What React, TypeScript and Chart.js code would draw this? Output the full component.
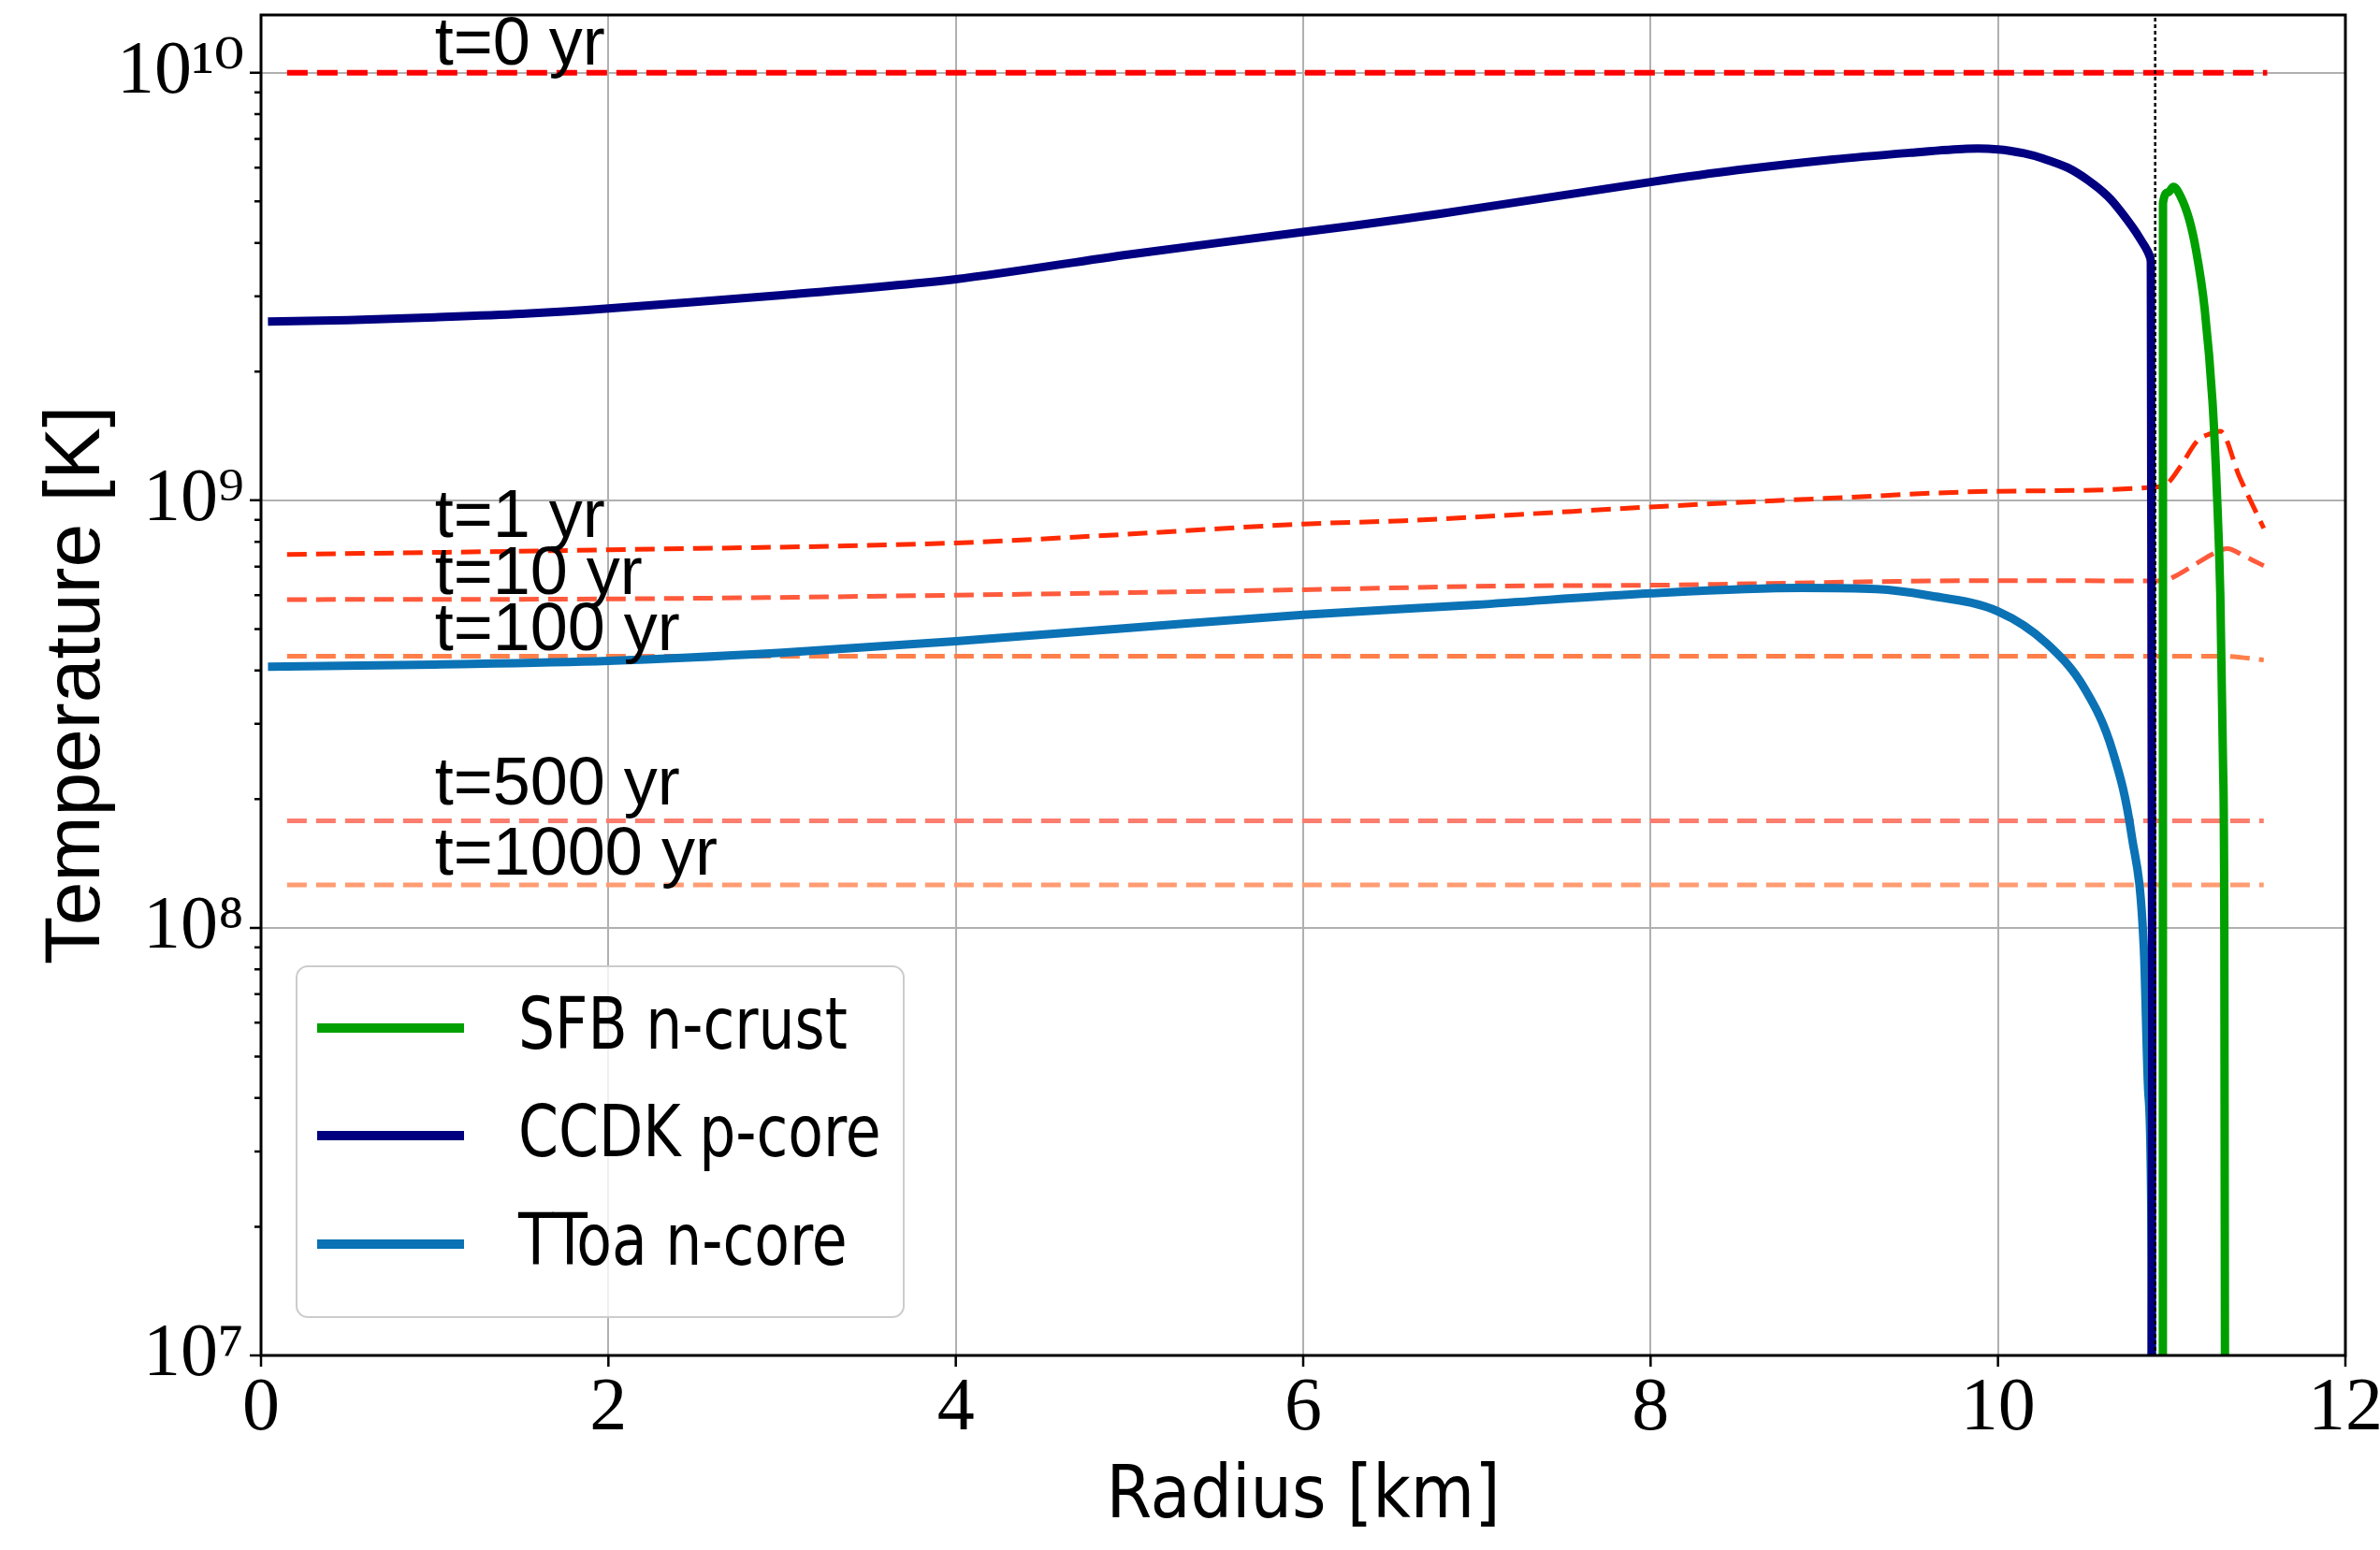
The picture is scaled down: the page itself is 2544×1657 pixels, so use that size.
import React, { useEffect, useRef } from "react";
import { Chart, registerables } from "chart.js";

Chart.register(...registerables);

// ---------- axes ----------
const xTicks = [0, 2, 4, 6, 8, 10, 12];
const yMajorTicks = [1e7, 1e8, 1e9, 1e10];
const yMinorMultipliers = [2, 3, 4, 5, 6, 7, 8, 9];
const xMin = 0;
const xMax = 12;
const yMin = 1e7;
const yMax = 1.365e10;

// ---------- solid profiles ----------
const sfbRadius = [10.949, 10.95, 10.98, 11.01, 11.05, 11.1, 11.14, 11.19, 11.235, 11.26, 11.28, 11.295, 11.303, 11.31];
const sfbTemp = [1e6, 4.96e9, 5.25e9, 5.41e9, 5.15e9, 4.55e9, 3.85e9, 2.8e9, 1.7e9, 1.05e9, 6.0e8, 2.5e8, 1.0e8, 1e6];

const ccdkRadius = [0.04, 0.5, 1, 1.5, 2, 3, 4, 5, 6, 6.58, 7, 8, 8.5, 9.05, 9.5, 9.82, 10.0, 10.15, 10.26, 10.4, 10.52, 10.63, 10.71, 10.81, 10.88, 10.8805];
const ccdkTemp = [2.62e9, 2.64e9, 2.68e9, 2.73e9, 2.81e9, 3.02e9, 3.29e9, 3.76e9, 4.24e9, 4.55e9, 4.82e9, 5.55e9, 5.92e9, 6.27e9, 6.5e9, 6.64e9, 6.62e9, 6.48e9, 6.3e9, 6.0e9, 5.6e9, 5.15e9, 4.72e9, 4.14e9, 3.61e9, 1e6];

const ttoaRadius = [0.04, 1, 2, 3, 4, 5, 6, 7, 8, 8.87, 9.3, 9.59, 10.0, 10.28, 10.5, 10.66, 10.77, 10.84, 10.865, 10.885, 10.89];
const ttoaTemp = [4.08e8, 4.13e8, 4.21e8, 4.4e8, 4.68e8, 5.03e8, 5.4e8, 5.7e8, 6.06e8, 6.24e8, 6.2e8, 6.0e8, 5.5e8, 4.63e8, 3.62e8, 2.59e8, 1.64e8, 8.9e7, 4.15e7, 1.66e7, 1e6];

const seriesLabels = ["SFB n-crust", "CCDK p-core", "TToa n-core"];
const seriesColors = ["#00a000", "#000080", "#0b72b5"];

// ---------- dashed temperature profiles at given ages ----------
const t0Radius = [0.15, 11.55];
const t0Temp = [1e10, 1e10];
const t1Radius = [0.15, 2, 4, 4.85, 6, 6.58, 7.11, 8, 9, 10, 10.92, 10.98, 11.05, 11.15, 11.22, 11.28, 11.39, 11.53];
const t1Temp = [7.47e8, 7.66e8, 7.95e8, 8.27e8, 8.8e8, 8.96e8, 9.2e8, 9.65e8, 1.01e9, 1.05e9, 1.075e9, 1.1e9, 1.2e9, 1.38e9, 1.43e9, 1.45e9, 1.135e9, 8.6e8];
const t10Radius = [0.15, 2, 4, 6, 7.11, 8, 10, 10.95, 11.03, 11.14, 11.245, 11.32, 11.42, 11.53];
const t10Temp = [5.86e8, 5.88e8, 6.0e8, 6.18e8, 6.3e8, 6.33e8, 6.49e8, 6.48e8, 6.68e8, 7.1e8, 7.52e8, 7.71e8, 7.4e8, 7.03e8];
const t100Radius = [0.15, 11.3, 11.53];
const t100Temp = [4.32e8, 4.32e8, 4.23e8];
const t500Radius = [0.15, 11.53];
const t500Temp = [1.78e8, 1.78e8];
const t1000Radius = [0.15, 11.53];
const t1000Temp = [1.26e8, 1.26e8];

const timeRadius = [t0Radius, t1Radius, t10Radius, t100Radius, t500Radius, t1000Radius];
const timeTemp = [t0Temp, t1Temp, t10Temp, t100Temp, t500Temp, t1000Temp];
const timeLabels = ["t=0 yr", "t=1 yr", "t=10 yr", "t=100 yr", "t=500 yr", "t=1000 yr"];
const timeColors = ["#ff0000", "#ff2a00", "#ff5a3c", "#ff7f4a", "#fa7d6e", "#ff9c72"];
const timeLabelRadius = 1.0;
const timeLabelTemp = [1.046e10, 8.22e8, 6.05e8, 4.47e8, 1.94e8, 1.33e8];

// crust-core boundary marker
const boundaryRadius = [10.905, 10.905];
const boundaryTemp = [1e6, 1e11];

const SERIF = '"Liberation Serif", "DejaVu Serif", serif';
const SANS = '"Liberation Sans", "DejaVu Sans", sans-serif';
const NARROW = '"DejaVu Sans Condensed", "Liberation Sans", sans-serif';

const SUP = "⁰¹²³⁴⁵⁶⁷⁸⁹";
const sup = (n: number) =>
  String(n)
    .split("")
    .map((d) => SUP[+d])
    .join("");

const pts = (xs: number[], ys: number[]) => xs.map((x, i) => ({ x, y: ys[i] }));

const decorPlugin = {
  id: "decor",
  afterDatasetsDraw(chart: any) {
    const { ctx, scales } = chart;
    const xs = scales.x;
    const ys = scales.y;
    ctx.save();
    ctx.fillStyle = "#000";
    ctx.font = `72px ${SANS}`;
    ctx.textAlign = "left";
    ctx.textBaseline = "alphabetic";
    timeLabels.forEach((lab, i) => {
      ctx.fillText(lab, xs.getPixelForValue(timeLabelRadius), ys.getPixelForValue(timeLabelTemp[i]));
    });
    ctx.restore();
  },
  afterDraw(chart: any) {
    const { ctx, chartArea: ca, scales } = chart;
    const xs = scales.x;
    const ys = scales.y;
    ctx.save();
    // frame
    ctx.strokeStyle = "#000";
    ctx.lineWidth = 3;
    ctx.strokeRect(ca.left, ca.top, ca.right - ca.left, ca.bottom - ca.top);
    // ticks
    ctx.lineWidth = 2.5;
    ctx.beginPath();
    yMajorTicks.forEach((v) => {
      const y = ys.getPixelForValue(v);
      ctx.moveTo(ca.left, y);
      ctx.lineTo(ca.left - 12, y);
      yMinorMultipliers.forEach((m) => {
        const mv = v * m;
        if (mv <= yMax) {
          const my = ys.getPixelForValue(mv);
          ctx.moveTo(ca.left, my);
          ctx.lineTo(ca.left - 7, my);
        }
      });
    });
    xTicks.forEach((v) => {
      const x = xs.getPixelForValue(v);
      ctx.moveTo(x, ca.bottom);
      ctx.lineTo(x, ca.bottom + 12);
    });
    ctx.stroke();

    // legend
    const lx = ca.left + 38;
    const ly = ca.bottom - 41 - 375;
    const lw = 649;
    const lh = 375;
    ctx.beginPath();
    ctx.roundRect(lx, ly, lw, lh, 12);
    ctx.fillStyle = "rgba(255,255,255,0.8)";
    ctx.fill();
    ctx.strokeStyle = "#cccccc";
    ctx.lineWidth = 2;
    ctx.stroke();
    const rowY = [66, 181, 297];
    seriesLabels.forEach((lab, i) => {
      const y = ly + rowY[i];
      ctx.beginPath();
      ctx.strokeStyle = seriesColors[i];
      ctx.lineWidth = 10;
      ctx.moveTo(lx + 22, y);
      ctx.lineTo(lx + 179, y);
      ctx.stroke();
      ctx.save();
      ctx.fillStyle = "#000";
      ctx.font = `76px ${NARROW}`;
      ctx.textAlign = "left";
      ctx.textBaseline = "middle";
      ctx.translate(lx + 237, y + 2);
      ctx.scale(0.9, 1);
      ctx.fillText(lab, 0, 0);
      ctx.restore();
    });
    ctx.restore();
  },
};

export default function App() {
  const canvasRef = useRef<HTMLCanvasElement | null>(null);

  useEffect(() => {
    document.body.style.margin = "0";
    const canvas = canvasRef.current;
    if (!canvas) return;

    const solid = [
      {
        label: "boundary",
        data: pts(boundaryRadius, boundaryTemp),
        borderColor: "#000000",
        borderWidth: 2.5,
        borderDash: [4, 3],
        tension: 0,
      },
      { label: seriesLabels[0], data: pts(sfbRadius, sfbTemp), borderColor: seriesColors[0], borderWidth: 9, cubicInterpolationMode: "monotone" },
      { label: seriesLabels[1], data: pts(ccdkRadius, ccdkTemp), borderColor: seriesColors[1], borderWidth: 9, tension: 0.3 },
      { label: seriesLabels[2], data: pts(ttoaRadius, ttoaTemp), borderColor: seriesColors[2], borderWidth: 9, cubicInterpolationMode: "monotone" },
    ];
    const dashed = timeLabels.map((lab, i) => ({
      label: lab,
      data: pts(timeRadius[i], timeTemp[i]),
      borderColor: timeColors[i],
      borderWidth: i === 0 ? 6 : 5,
      borderDash: i === 0 ? [22, 10] : [21, 10],
      cubicInterpolationMode: "monotone",
    }));

    const datasets = [...solid, ...dashed].map((d) => ({
      ...d,
      pointRadius: 0,
      fill: false,
      clip: 0,
      borderCapStyle: "butt",
      borderJoinStyle: "round",
    }));

    const chart = new Chart(canvas, {
      type: "line",
      data: { datasets: datasets as any },
      plugins: [decorPlugin as any],
      options: {
        animation: false,
        responsive: true,
        maintainAspectRatio: false,
        devicePixelRatio: 1,
        events: [],
        layout: { padding: { top: 16, right: 37, left: 0, bottom: 0 } },
        plugins: {
          legend: { display: false },
          tooltip: { enabled: false },
          title: { display: false },
        },
        scales: {
          x: {
            type: "linear",
            min: xMin,
            max: xMax,
            afterBuildTicks: (s: any) => {
              s.ticks = xTicks.map((v) => ({ value: v }));
            },
            afterFit: (s: any) => {
              s.height = 208;
              s.paddingLeft = 0;
              s.paddingRight = 0;
            },
            ticks: {
              color: "#000",
              font: { family: SERIF, size: 80 },
              padding: 10,
              maxRotation: 0,
              autoSkip: false,
              callback: (v: any) => String(v),
            },
            grid: { color: "#b0b0b0", lineWidth: 2, drawTicks: false },
            border: { display: false },
            title: {
              display: true,
              text: "Radius [km]",
              color: "#000",
              font: { family: NARROW, size: 78 },
              padding: { top: 0, bottom: 8 },
            },
          },
          y: {
            type: "logarithmic",
            min: yMin,
            max: yMax,
            afterBuildTicks: (s: any) => {
              s.ticks = yMajorTicks.map((v) => ({ value: v }));
            },
            afterFit: (s: any) => {
              s.width = 279;
              s.paddingTop = 0;
              s.paddingBottom = 0;
            },
            ticks: {
              color: "#000",
              font: { family: SERIF, size: 80 },
              padding: 18,
              autoSkip: false,
              callback: (v: any) => "10" + sup(Math.round(Math.log10(Number(v)))),
            },
            grid: { color: "#b0b0b0", lineWidth: 2, drawTicks: false },
            border: { display: false },
            title: {
              display: true,
              text: "Temperature [K]",
              color: "#000",
              font: { family: SANS, size: 84 },
              padding: { top: 32, bottom: 0 },
            },
          },
        },
      } as any,
    });

    return () => chart.destroy();
  }, []);

  return (
    <div style={{ position: "absolute", left: 0, top: 0, width: "2544px", height: "1657px", background: "#fff" }}>
      <canvas ref={canvasRef} />
    </div>
  );
}
